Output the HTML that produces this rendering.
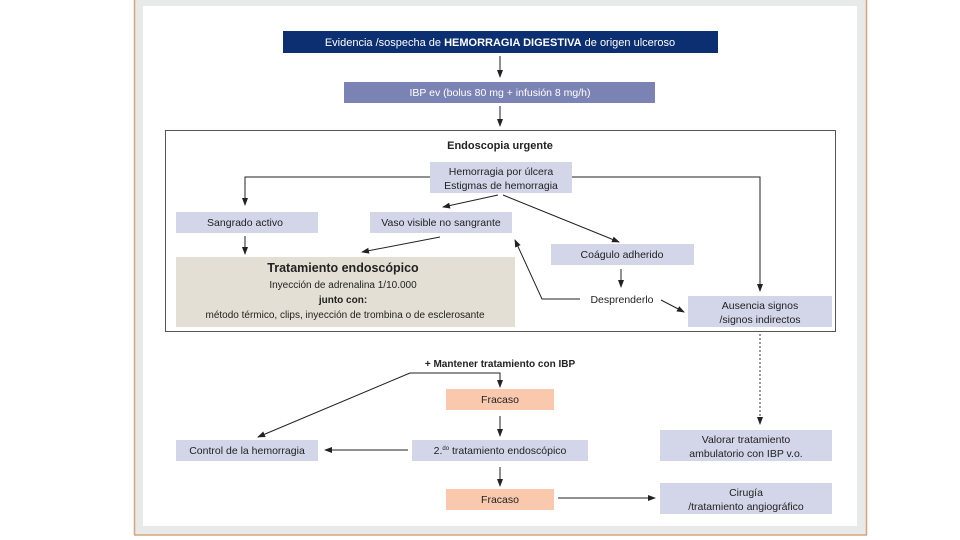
<!DOCTYPE html>
<html><head><meta charset="utf-8"><style>
html,body{margin:0;padding:0;background:#fff;}
svg{display:block;}
text{font-family:"Liberation Sans",sans-serif;fill:#222;}
</style></head><body>
<svg width="960" height="540" viewBox="0 0 960 540" xmlns="http://www.w3.org/2000/svg">
<defs>
<marker id="a" markerWidth="8" markerHeight="8" refX="7" refY="4" orient="auto" markerUnits="userSpaceOnUse">
<path d="M0,1 L8,4 L0,7 Z" fill="#222"/></marker>
</defs>
<!-- frame -->
<rect x="134" y="0" width="733" height="535" fill="#e8eaea"/>
<line x1="134.5" y1="0" x2="134.5" y2="535" stroke="#d9a47a" stroke-width="1.5"/>
<line x1="866.5" y1="0" x2="866.5" y2="535" stroke="#d9a47a" stroke-width="1.5"/>
<line x1="134" y1="535" x2="867" y2="535" stroke="#d9a47a" stroke-width="1.5"/>
<rect x="143" y="6" width="714" height="520" fill="#fff"/>

<!-- top -->
<rect x="283" y="31" width="435" height="22" fill="#0c2f72"/>
<text x="500" y="46" text-anchor="middle" font-size="11" style="fill:#fff">Evidencia /sospecha de <tspan font-weight="bold" style="fill:#fff">HEMORRAGIA DIGESTIVA</tspan> de origen ulceroso</text>
<line x1="500" y1="56" x2="500" y2="77" stroke="#222" marker-end="url(#a)"/>
<rect x="344" y="82" width="311" height="21" fill="#7b83b4"/>
<text x="500" y="96" text-anchor="middle" font-size="10.5" style="fill:#fff">IBP ev (bolus 80 mg + infusión 8 mg/h)</text>
<line x1="500" y1="106" x2="500" y2="126" stroke="#222" marker-end="url(#a)"/>

<!-- endoscopy frame -->
<rect x="165.5" y="130.5" width="670" height="201" fill="none" stroke="#555" stroke-width="1"/>
<text x="500" y="149" text-anchor="middle" font-size="11" font-weight="bold">Endoscopia urgente</text>

<rect x="430" y="162" width="142" height="31" fill="#d3d6e9"/>
<text x="501" y="175" text-anchor="middle" font-size="10.5">Hemorragia por úlcera</text>
<text x="501" y="189" text-anchor="middle" font-size="10.5">Estigmas de hemorragia</text>

<polyline points="430,177 245,177 245,205" fill="none" stroke="#222" marker-end="url(#a)"/>
<polyline points="572,177 760,177 760,291" fill="none" stroke="#222" marker-end="url(#a)"/>
<line x1="498" y1="195" x2="443" y2="207" stroke="#222" marker-end="url(#a)"/>
<line x1="503" y1="195" x2="619" y2="242" stroke="#222" marker-end="url(#a)"/>

<rect x="176" y="212" width="142" height="21" fill="#d3d6e9"/>
<text x="245" y="226" text-anchor="middle" font-size="10.5">Sangrado activo</text>
<rect x="370" y="212" width="142" height="21" fill="#d3d6e9"/>
<text x="441" y="226" text-anchor="middle" font-size="10.5">Vaso visible no sangrante</text>
<line x1="245" y1="236" x2="245" y2="254" stroke="#222" marker-end="url(#a)"/>
<line x1="440" y1="237" x2="362" y2="252" stroke="#222" marker-end="url(#a)"/>

<rect x="551" y="244" width="143" height="21" fill="#d3d6e9"/>
<text x="622" y="258" text-anchor="middle" font-size="10.5">Coágulo adherido</text>
<line x1="621" y1="269" x2="621" y2="287" stroke="#222" marker-end="url(#a)"/>

<rect x="176" y="257" width="339" height="70" fill="#e3dfd5"/>
<text x="343" y="272" text-anchor="middle" font-size="12.5" font-weight="bold">Tratamiento endoscópico</text>
<text x="343" y="288" text-anchor="middle" font-size="10">Inyección de adrenalina 1/10.000</text>
<text x="343" y="303" text-anchor="middle" font-size="10" font-weight="bold">junto con:</text>
<text x="345" y="318" text-anchor="middle" font-size="10">método térmico, clips, inyección de trombina  o de esclerosante</text>

<text x="622" y="303" text-anchor="middle" font-size="10.5">Desprenderlo</text>
<polyline points="580,299 542,299 515,240" fill="none" stroke="#222" marker-end="url(#a)"/>
<line x1="661" y1="300" x2="684" y2="312" stroke="#222" marker-end="url(#a)"/>

<rect x="688" y="296" width="144" height="31" fill="#d3d6e9"/>
<text x="760" y="309" text-anchor="middle" font-size="10.5">Ausencia signos</text>
<text x="760" y="323" text-anchor="middle" font-size="10.5">/signos indirectos</text>

<!-- bottom -->
<line x1="760" y1="334" x2="760" y2="424" stroke="#333" stroke-dasharray="2,2" marker-end="url(#a)"/>
<rect x="660" y="430" width="172" height="31" fill="#d3d6e9"/>
<text x="746" y="443" text-anchor="middle" font-size="10.5">Valorar tratamiento</text>
<text x="746" y="457" text-anchor="middle" font-size="10.5">ambulatorio con IBP v.o.</text>

<text x="500" y="367" text-anchor="middle" font-size="10" font-weight="bold">+ Mantener tratamiento con IBP</text>
<polyline points="410,373 500,373 500,387" fill="none" stroke="#222" marker-end="url(#a)"/>
<line x1="410" y1="373" x2="258" y2="437" stroke="#222" marker-end="url(#a)"/>

<rect x="446" y="389" width="108" height="21" fill="#f9c8ad"/>
<text x="500" y="403" text-anchor="middle" font-size="10.5">Fracaso</text>
<line x1="500" y1="416" x2="500" y2="436" stroke="#222" marker-end="url(#a)"/>

<rect x="412" y="440" width="176" height="21" fill="#d3d6e9"/>
<text x="500" y="454" text-anchor="middle" font-size="10.5">2.<tspan font-size="6" dy="-4">do</tspan><tspan dy="4"> tratamiento endoscópico</tspan></text>
<line x1="408" y1="450" x2="325" y2="450" stroke="#222" marker-end="url(#a)"/>
<rect x="176" y="440" width="142" height="21" fill="#d3d6e9"/>
<text x="247" y="454" text-anchor="middle" font-size="10.5">Control de la hemorragia</text>
<line x1="500" y1="467" x2="500" y2="486" stroke="#222" marker-end="url(#a)"/>

<rect x="446" y="489" width="108" height="21" fill="#f9c8ad"/>
<text x="500" y="503" text-anchor="middle" font-size="10.5">Fracaso</text>
<line x1="558" y1="498" x2="655" y2="498" stroke="#222" marker-end="url(#a)"/>
<rect x="660" y="483" width="172" height="31" fill="#d3d6e9"/>
<text x="746" y="496" text-anchor="middle" font-size="10.5">Cirugía</text>
<text x="746" y="510" text-anchor="middle" font-size="10.5">/tratamiento angiográfico</text>
</svg>
</body></html>
